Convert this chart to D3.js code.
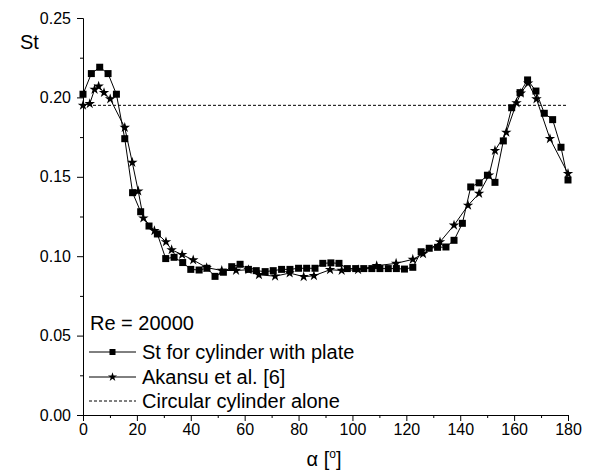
<!DOCTYPE html>
<html><head><meta charset="utf-8">
<script src="https://cdn.jsdelivr.net/npm/d3@7"></script>
<style>
body{margin:0;background:#fff;}
text{font-family:"Liberation Sans",Arial,sans-serif;fill:#000;}
</style></head>
<body><svg id="c" width="592" height="471"></svg>
<script>
// Data
const plateAlpha = [0,3.1,6.2,9.3,12.4,15.5,18.4,21.4,24.5,27.6,30.7,33.8,37,40,43.1,46,49,52.1,55.2,58.3,61.4,64.3,67.6,70.6,73.7,76.8,80,83,86.1,89,92,95,98.1,101.2,104.2,107.2,110.2,113.3,116.3,119.3,122.4,125.5,128.5,131.6,134.7,137.7,140.8,143.9,147,150.1,152.9,156,159.1,162.2,165,168.1,171.2,174.3,177.4,180];
const plateSt = [0.202,0.215,0.219,0.215,0.202,0.174,0.140,0.128,0.119,0.114,0.0985,0.0993,0.096,0.0917,0.0913,0.0924,0.0873,0.0899,0.0934,0.0949,0.0917,0.0909,0.0903,0.0909,0.0917,0.0917,0.0924,0.0924,0.0924,0.0955,0.0958,0.0955,0.0922,0.0922,0.0922,0.0922,0.0922,0.0922,0.0922,0.0919,0.093,0.1028,0.105,0.1056,0.1058,0.110,0.1207,0.1436,0.1462,0.151,0.1465,0.1726,0.1935,0.203,0.211,0.204,0.190,0.186,0.1686,0.148];
const akansuAlpha = [0,2.5,4.3,5.8,7.8,10.1,15.5,18.3,20.5,22.4,26.5,30.8,32.9,36.8,40.9,45.9,51.5,56.8,61.4,65.3,71.3,76.7,81.9,85.7,91.7,96,102.1,109,116.2,122.4,126.2,132.5,137.7,142.9,147,150.7,152.9,157.1,160.9,162.5,165.2,168.3,173.3,180];
const akansuSt = [0.195,0.196,0.205,0.207,0.203,0.199,0.181,0.159,0.141,0.124,0.116,0.109,0.104,0.101,0.0976,0.0928,0.091,0.091,0.0915,0.0883,0.0874,0.0894,0.0871,0.0877,0.0915,0.091,0.0915,0.094,0.0955,0.098,0.1015,0.109,0.1195,0.132,0.1395,0.151,0.1665,0.178,0.1965,0.2026,0.209,0.199,0.174,0.152];
const cylinderAloneSt = 0.195;
const xMajorTicks = [0,20,40,60,80,100,120,140,160,180];
const xMinorTicks = [10,30,50,70,90,110,130,150,170];
const yMajorTicks = [0,0.05,0.10,0.15,0.20,0.25];
const yMinorTicks = [0.025,0.075,0.125,0.175,0.225];
const legendLabels = ["St for cylinder with plate","Akansu et al. [6]","Circular cylinder alone"];
const reLabel = "Re = 20000";

const svg = d3.select("#c");
const x = d3.scaleLinear().domain([0,180]).range([83,568]);
const y = d3.scaleLinear().domain([0,0.25]).range([415,18]);

// axes
const gx = svg.append("g").attr("transform","translate(0,415)");
gx.call(d3.axisBottom(x).tickValues(xMajorTicks).tickSize(6).tickSizeOuter(0).tickPadding(3).tickFormat(d3.format("d")));
gx.append("g").call(d3.axisBottom(x).tickValues(xMinorTicks).tickSize(3).tickSizeOuter(0).tickFormat(""));
const gy = svg.append("g").attr("transform","translate(83,0)");
gy.call(d3.axisLeft(y).tickValues(yMajorTicks).tickSize(6).tickSizeOuter(0).tickPadding(6).tickFormat(d3.format(".2f")));
gy.append("g").call(d3.axisLeft(y).tickValues(yMinorTicks).tickSize(3).tickSizeOuter(0).tickFormat(""));
svg.selectAll(".domain").attr("stroke","#000").attr("stroke-width",1);
svg.selectAll(".tick line").attr("stroke","#000");
svg.selectAll(".tick text").attr("font-family","Liberation Sans, Arial, sans-serif").attr("font-size",16).attr("fill","#000");

// reference dashed line
svg.append("line").attr("x1",x(0)).attr("x2",x(180)).attr("y1",y(cylinderAloneSt)).attr("y2",y(cylinderAloneSt))
  .attr("stroke","#000").attr("stroke-width",1).attr("stroke-dasharray","3,2");

const line = d3.line().x(d=>x(d[0])).y(d=>y(d[1]));
const plate = plateAlpha.map((a,i)=>[a,plateSt[i]]);
const akansu = akansuAlpha.map((a,i)=>[a,akansuSt[i]]);

svg.append("path").datum(akansu).attr("d",line).attr("fill","none").attr("stroke","#000").attr("stroke-width",1);
svg.append("path").datum(plate).attr("d",line).attr("fill","none").attr("stroke","#000").attr("stroke-width",1);

const sq = d3.symbol().type(d3.symbolSquare).size(49);
const st = d3.symbol().type(d3.symbolStar).size(34);
svg.selectAll(".sq").data(plate).join("path").attr("class","sq").attr("d",sq)
  .attr("transform",d=>`translate(${x(d[0])},${y(d[1])})`).attr("fill","#000");
svg.selectAll(".st").data(akansu).join("path").attr("class","st").attr("d",st)
  .attr("transform",d=>`translate(${x(d[0])},${y(d[1])})`).attr("fill","#000");

// labels
svg.append("text").attr("x",20).attr("y",49).attr("font-size",20).text("St");
const xt = svg.append("text").attr("x",324).attr("y",466).attr("text-anchor","middle").attr("font-size",20);
xt.append("tspan").text("α [");
xt.append("tspan").attr("font-size",12).attr("dy",-8).text("o");
xt.append("tspan").attr("dy",8).text("]");

// legend
svg.append("text").attr("x",90).attr("y",330).attr("font-size",20).text(reLabel);
const rows = [352,377,401];
const lg = svg.append("g");
rows.forEach((ry,i)=>{
  lg.append("line").attr("x1",89).attr("x2",136).attr("y1",ry).attr("y2",ry).attr("stroke","#000").attr("stroke-width",1)
    .attr("stroke-dasharray", i===2 ? "3,2" : null);
  if(i===0) lg.append("path").attr("d",d3.symbol().type(d3.symbolSquare).size(36)).attr("transform",`translate(112.5,${ry})`);
  if(i===1) lg.append("path").attr("d",d3.symbol().type(d3.symbolStar).size(26)).attr("transform",`translate(112.5,${ry})`);
  lg.append("text").attr("x",142).attr("y",ry+7).attr("font-size",20).text(legendLabels[i]);
});
</script></body></html>
